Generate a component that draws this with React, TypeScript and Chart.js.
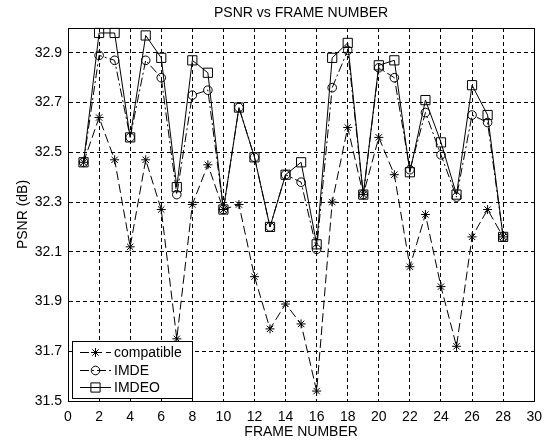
import React, { useEffect, useRef } from "react";
import { Chart, registerables } from "chart.js";

Chart.register(...registerables);

const chartTitle = "PSNR vs FRAME NUMBER";
const xTitle = "FRAME NUMBER";
const yTitle = "PSNR (dB)";

const frames = [1, 2, 3, 4, 5, 6, 7, 8, 9, 10, 11, 12, 13, 14, 15, 16, 17, 18, 19, 20, 21, 22, 23, 24, 25, 26, 27, 28];
const compatible = [32.46, 32.64, 32.47, 32.12, 32.47, 32.27, 31.75, 32.29, 32.45, 32.27, 32.29, 32.0, 31.79, 31.89, 31.81, 31.54, 32.3, 32.6, 32.33, 32.56, 32.41, 32.04, 32.25, 31.96, 31.72, 32.16, 32.27, 32.16];
const imde = [32.46, 32.89, 32.87, 32.56, 32.87, 32.8, 32.33, 32.73, 32.75, 32.27, 32.68, 32.48, 32.2, 32.41, 32.38, 32.11, 32.76, 32.91, 32.33, 32.84, 32.8, 32.43, 32.66, 32.49, 32.32, 32.65, 32.62, 32.16];
const imdeo = [32.46, 32.98, 32.98, 32.56, 32.97, 32.88, 32.36, 32.87, 32.82, 32.27, 32.68, 32.48, 32.2, 32.41, 32.46, 32.13, 32.88, 32.94, 32.33, 32.85, 32.87, 32.42, 32.71, 32.54, 32.33, 32.77, 32.65, 32.16];

const xTicks = [0, 2, 4, 6, 8, 10, 12, 14, 16, 18, 20, 22, 24, 26, 28, 30];
const yTicks = [31.5, 31.7, 31.9, 32.1, 32.3, 32.5, 32.7, 32.9];
const yMin = 31.5;
const yMax = 33.0;

const FONT = '"Liberation Sans", Arial, sans-serif';
const FS = 14;

const align = (p: number) => Math.round(p - 0.5) + 0.5;

function drawMarker(ctx: CanvasRenderingContext2D, style: string, x: number, y: number, r: number) {
  ctx.beginPath();
  if (style === "star") {
    ctx.moveTo(x - r, y); ctx.lineTo(x + r, y);
    ctx.moveTo(x, y - r); ctx.lineTo(x, y + r);
    const d = r * Math.SQRT1_2;
    ctx.moveTo(x - d, y - d); ctx.lineTo(x + d, y + d);
    ctx.moveTo(x - d, y + d); ctx.lineTo(x + d, y - d);
  } else if (style === "circle") {
    ctx.arc(x, y, r, 0, Math.PI * 2);
  } else {
    const s = r * Math.SQRT1_2;
    ctx.rect(x - s, y - s, 2 * s, 2 * s);
  }
  ctx.stroke();
}

const decorPlugin = {
  id: "decor",
  afterDraw(chart: any) {
    const ctx: CanvasRenderingContext2D = chart.ctx;
    const { left, right, top, bottom } = chart.chartArea;
    ctx.save();
    ctx.strokeStyle = "#000";
    ctx.lineWidth = 1;
    ctx.setLineDash([]);
    ctx.strokeRect(align(left), align(top), align(right) - align(left), align(bottom) - align(top));

    ctx.fillStyle = "#000";
    ctx.font = `${FS}px ${FONT}`;
    ctx.textAlign = "center";
    ctx.textBaseline = "middle";
    ctx.fillText(chartTitle, (left + right) / 2, 13);
    ctx.fillText(xTitle, (left + right) / 2, 432);
    ctx.save();
    ctx.translate(23, (top + bottom) / 2);
    ctx.rotate(-Math.PI / 2);
    ctx.fillText(yTitle, 0, 0);
    ctx.restore();

    const lx = 72.5, ly = 341.5, lw = 120, lh = 57;
    ctx.fillStyle = "#fff";
    ctx.fillRect(lx, ly, lw, lh);
    ctx.strokeStyle = "#000";
    ctx.strokeRect(lx, ly, lw, lh);
    const rows = [352, 370, 387];
    chart.data.datasets.forEach((ds: any, i: number) => {
      const y = rows[i] + 0.5;
      ctx.strokeStyle = "#000";
      ctx.lineWidth = 1;
      ctx.setLineDash(ds.borderDash || []);
      ctx.beginPath();
      ctx.moveTo(80, y);
      ctx.lineTo(111, y);
      ctx.stroke();
      ctx.setLineDash([]);
      drawMarker(ctx, ds.pointStyle, 95.5, y, ds.pointRadius);
      ctx.fillStyle = "#000";
      ctx.textAlign = "left";
      ctx.textBaseline = "middle";
      ctx.fillText(ds.label, 114, rows[i] + 1);
    });
    ctx.restore();
  },
};

export default function App() {
  const ref = useRef<HTMLCanvasElement | null>(null);

  useEffect(() => {
    if (!ref.current) return;
    const mk = (vals: number[]) => frames.map((f, i) => ({ x: f, y: vals[i] }));
    const chart = new Chart(ref.current, {
      type: "line",
      data: {
        datasets: [
          {
            label: "compatible",
            data: mk(compatible),
            borderColor: "#000",
            borderWidth: 1,
            borderDash: [9, 4],
            pointStyle: "star",
            pointRadius: 4.5,
            pointBorderColor: "#000",
            pointBackgroundColor: "transparent",
            pointBorderWidth: 1,
            tension: 0,
            clip: 10,
          },
          {
            label: "IMDE",
            data: mk(imde),
            borderColor: "#000",
            borderWidth: 1,
            borderDash: [9, 3, 2, 3],
            pointStyle: "circle",
            pointRadius: 4.3,
            pointBorderColor: "#000",
            pointBackgroundColor: "transparent",
            pointBorderWidth: 1,
            tension: 0,
            clip: 10,
          },
          {
            label: "IMDEO",
            data: mk(imdeo),
            borderColor: "#000",
            borderWidth: 1,
            borderDash: [],
            pointStyle: "rect",
            pointRadius: 6.5,
            pointBorderColor: "#000",
            pointBackgroundColor: "transparent",
            pointBorderWidth: 1,
            tension: 0,
            clip: 10,
          },
        ] as any,
      },
      options: {
        responsive: false,
        animation: false,
        events: [],
        layout: { padding: { top: 28, right: 10, left: 0, bottom: 0 } },
        plugins: { legend: { display: false }, title: { display: false }, tooltip: { enabled: false } },
        scales: {
          x: {
            type: "linear",
            min: 0,
            max: 30,
            afterFit: (s: any) => { s.height = 41; },
            afterBuildTicks: (s: any) => { s.ticks = xTicks.map((v) => ({ value: v })); },
            ticks: {
              autoSkip: false,
              maxRotation: 0,
              padding: 8,
              color: "#000",
              font: { family: FONT, size: FS },
              callback: (v: any) => String(v),
            },
            grid: { color: "#000", lineWidth: 1, drawTicks: false },
            border: { display: true, color: "#000", width: 1, dash: [4, 3] },
          },
          y: {
            type: "linear",
            min: yMin,
            max: yMax,
            afterFit: (s: any) => { s.width = 68; },
            afterBuildTicks: (s: any) => { s.ticks = yTicks.map((v) => ({ value: v })); },
            ticks: {
              autoSkip: false,
              padding: 6,
              color: "#000",
              font: { family: FONT, size: FS },
              callback: (v: any) => Number(v).toFixed(1),
            },
            grid: { color: "#000", lineWidth: 1, drawTicks: false },
            border: { display: true, color: "#000", width: 1, dash: [4, 3] },
          },
        },
      } as any,
      plugins: [decorPlugin],
    });
    return () => chart.destroy();
  }, []);

  return (
    <div style={{ position: "absolute", left: 0, top: 0, width: 550, height: 442, background: "#fff" }}>
      <canvas ref={ref} width={550} height={442} style={{ width: 550, height: 442, display: "block" }} />
    </div>
  );
}
